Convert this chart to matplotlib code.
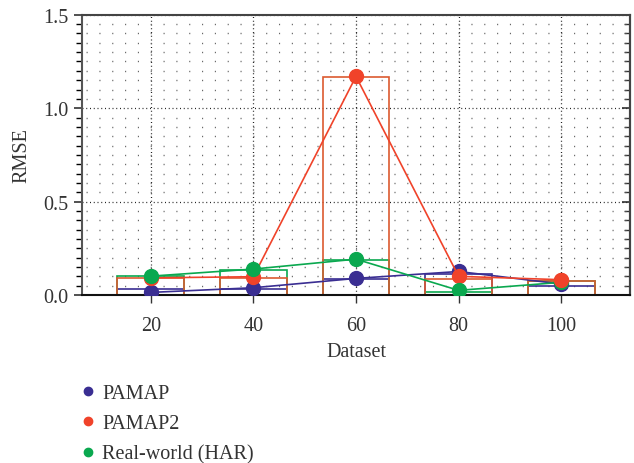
import numpy as np
import matplotlib
matplotlib.use('Agg')
import matplotlib.pyplot as plt
from matplotlib.ticker import MultipleLocator

plt.rcParams['font.family'] = ['Liberation Serif', 'DejaVu Serif']

# Data
datasets = [20, 40, 60, 80, 100]
labels = ['PAMAP', 'PAMAP2', 'Real-world (HAR)']

# bar heights (outline bars)
pamap_bar = [0.032, 0.032, 0.085, 0.114, 0.050]
pamap2_bar = [0.091, 0.093, 1.168, 0.086, 0.075]
har_bar = [0.100, 0.135, 0.185, 0.018, 0.075]

# line/marker values
pamap_pts = [0.014, 0.039, 0.089, 0.126, 0.059]
pamap2_pts = [0.092, 0.098, 1.170, 0.100, 0.082]
har_pts = [0.101, 0.139, 0.192, 0.025, 0.068]

blue = '#3a2e92'
red = '#f0432a'
green = '#0aa84f'
red_edge = '#dc5a30'

fig = plt.figure(figsize=(6.34, 4.64), dpi=100)
ax = fig.add_axes([0.1293, 0.362, 0.8644, 0.604])

x = np.array(datasets)
w = 13.0
ax.bar(x, pamap_bar, width=w, fill=False, edgecolor=blue, linewidth=1.2, zorder=2)
ax.bar(x, har_bar, width=w, fill=False, edgecolor=green, linewidth=1.2, zorder=2)
ax.bar(x, pamap2_bar, width=w, fill=False, edgecolor=red_edge, linewidth=1.2, zorder=2)

ms = 10
ax.plot(x, pamap_pts, '-o', color=blue, lw=1.2, ms=ms, zorder=3, label=labels[0])
ax.plot(x, pamap2_pts, '-o', color=red, lw=1.2, ms=ms, zorder=4, label=labels[1])
ax.plot(x, har_pts, '-o', color=green, lw=1.2, ms=ms, zorder=5, label=labels[2])
# last PAMAP2 point sits on top in the original
ax.plot(x[-1:], pamap2_pts[-1:], 'o', color=red, ms=ms, zorder=6)

xmin, xmax = 6.6, 113.4
ax.set_xlim(xmin, xmax)
ax.set_ylim(0, 1.5)
ax.set_xticks(datasets)
ax.set_yticks([0, 0.5, 1.0, 1.5])
ax.set_yticklabels(['0.0', '0.5', '1.0', '1.5'])
ax.xaxis.set_minor_locator(MultipleLocator(2.5))
ax.yaxis.set_minor_locator(MultipleLocator(0.05))

# major grid: dense dots
ax.grid(True, which='major', color='#222222', linestyle=(0, (0.8, 2.2)), linewidth=0.9, zorder=0)
# minor grid: dots only at the minor tick crossings (horizontal rows, dot spacing = x minor step)
ax_w_pt = 0.8644 * 6.34 * 72
step_pt = 2.5 / (xmax - xmin) * ax_w_pt
first_pt = (7.5 - xmin) / (xmax - xmin) * ax_w_pt
on = 0.8
ax.yaxis.grid(True, which='minor', color='#666666', linewidth=1.0,
              linestyle=(step_pt - first_pt + on / 2, (on, step_pt - on)), zorder=0)
ax.xaxis.grid(False, which='minor')

fs = 14.5
ax.tick_params(axis='y', which='major', direction='out', length=6, width=1.2,
               labelsize=fs, colors='#333333')
ax.tick_params(axis='y', which='minor', direction='out', length=4, width=1.0)
ax.tick_params(axis='x', which='major', direction='out', length=6, width=1.0,
               labelsize=fs, colors='#333333', pad=9)
ax.tick_params(axis='x', which='minor', length=0)

# inward ticks on the right side
sec = ax.secondary_yaxis('right')
sec.set_yticks([0, 0.5, 1.0, 1.5])
sec.yaxis.set_minor_locator(MultipleLocator(0.05))
sec.tick_params(which='major', direction='in', length=6, width=1.2, labelright=False, colors='#333333')
sec.tick_params(which='minor', direction='in', length=4, width=1.0, colors='#333333')
sec.spines['right'].set_linewidth(1.5)
sec.spines['right'].set_color('#444444')

for side in ['top', 'right', 'left', 'bottom']:
    ax.spines[side].set_linewidth(1.5)
ax.spines['left'].set_color('#555555')
ax.spines['top'].set_color('#444444')
ax.spines['right'].set_color('#444444')
ax.spines['bottom'].set_color('#111111')

ax.set_xlabel('Dataset', fontsize=fs, color='#333333', labelpad=5)
ax.set_ylabel('RMSE', fontsize=fs, color='#333333', labelpad=9)

handles = [plt.Line2D([], [], marker='o', ls='', color=c, ms=6) for c in (blue, red, green)]
fig.legend(handles, labels, loc='upper left', bbox_to_anchor=(0.126, 0.17),
           frameon=False, fontsize=fs, handletextpad=0.3, labelspacing=0.55,
           handlelength=0.8, borderpad=0, borderaxespad=0, labelcolor='#333333')

fig.savefig('out.png', dpi=100)
